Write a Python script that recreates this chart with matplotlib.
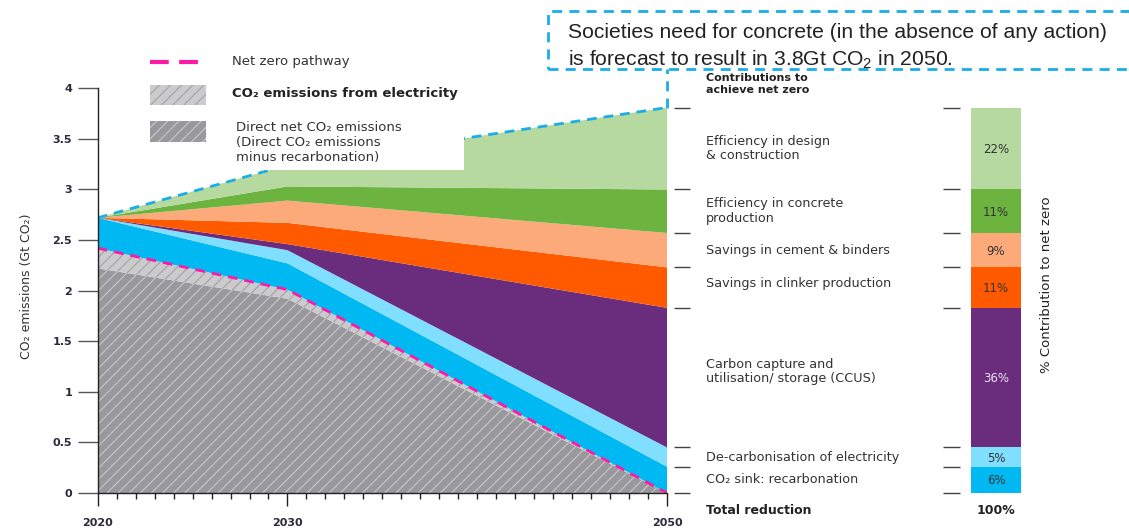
import numpy as np
import matplotlib.pyplot as plt
from matplotlib.patches import Rectangle
from matplotlib.lines import Line2D

plt.rcParams['font.family'] = ['DejaVu Sans']
plt.rcParams['hatch.linewidth'] = 0.8
plt.rcParams['mathtext.fontset'] = 'custom'
plt.rcParams['mathtext.rm'] = 'Liberation Sans'

# data (Gt CO2), layers from bottom to top
years = [2020, 2030, 2050]
direct_net = [2.22, 1.92, 0.00]
electricity = [0.20, 0.09, 0.00]
recarbonation = [0.30, 0.26, 0.26]
decarb_electricity = [0.00, 0.13, 0.19]
ccus = [0.00, 0.06, 1.38]
clinker = [0.00, 0.21, 0.40]
cement_binders = [0.00, 0.22, 0.34]
concrete_production = [0.00, 0.14, 0.43]
design_construction = [0.00, 0.21, 0.81]

lever_names = ["CO₂ sink: recarbonation",
               "De-carbonisation of electricity",
               "Carbon capture and\nutilisation/ storage (CCUS)",
               "Savings in clinker production",
               "Savings in cement & binders",
               "Efficiency in concrete\nproduction",
               "Efficiency in design\n& construction"]
lever_pct = ["6%", "5%", "36%", "11%", "9%", "11%", "22%"]
lever_colors = ['#00b9f2', '#80deff', '#6a2d7e', '#ff5a00',
                '#fdaa7b', '#6db33f', '#b6d99f']

layers = np.array([direct_net, electricity, recarbonation, decarb_electricity,
                   ccus, clinker, cement_binders, concrete_production,
                   design_construction])
tops = np.cumsum(layers, axis=0)
bottoms = np.vstack([np.zeros(len(years)), tops[:-1]])
net_zero = tops[1]
baseline = tops[-1]

W, H = 1129, 530
def fx(px):
    return px / W
def fy(py):
    return 1 - py / H

txt = '#333333'
blue_dash = '#1aaee8'
magenta = '#ff1aa6'

fig = plt.figure(figsize=(W / 100, H / 100), dpi=100)
ax = fig.add_axes([fx(97.7), fy(493), fx(667) - fx(97.7), (493 - 88.3) / H])

# hatched grey areas
ax.fill_between(years, bottoms[0], tops[0], facecolor='#99999d',
                edgecolor='#c8c8cc', hatch='///', linewidth=0, zorder=1)
ax.fill_between(years, bottoms[1], tops[1], facecolor='#cbcbce',
                edgecolor='#a3a3a7', hatch='///', linewidth=0, zorder=1)
# coloured reduction levers
for i, c in enumerate(lever_colors):
    ax.fill_between(years, bottoms[i + 2], tops[i + 2], facecolor=c,
                    edgecolor='none', linewidth=0, zorder=1)

ax.plot(years, net_zero, color=magenta, lw=2, ls=(0, (3.5, 2.5)), zorder=3)
ax.plot(years, baseline, color=blue_dash, lw=2, ls=(0, (3.5, 2.5)), zorder=3)

# white legend background hiding part of the baseline
ax.add_patch(Rectangle((2022, 3.19), 17.3, 1.2, facecolor='white',
                       edgecolor='none', zorder=4))

ax.set_xlim(2020, 2050)
ax.set_ylim(0, 4)
for s in ['top', 'right']:
    ax.spines[s].set_visible(False)
for s in ['left', 'bottom']:
    ax.spines[s].set_color('#222222')
    ax.spines[s].set_linewidth(1)
    ax.spines[s].set_zorder(5)

ax.set_yticks([0, 0.5, 1, 1.5, 2, 2.5, 3, 3.5, 4])
ax.set_yticklabels(['0', '0.5', '1', '1.5', '2', '2.5', '3', '3.5', '4'])
ax.tick_params(axis='y', length=14.5, width=1, color='#555555', pad=4,
               labelsize=8, labelcolor='#2a2a3a')
for t in ax.get_yticklabels():
    t.set_fontweight('bold')

ax.set_xticks([2020, 2030, 2050])
ax.set_xticks(np.arange(2020, 2051, 1), minor=True)
ax.tick_params(axis='x', which='major', length=9, width=1, color='#222222',
               pad=9, labelsize=8, labelcolor='#2a2a3a')
ax.tick_params(axis='x', which='minor', length=4.5, width=1, color='#222222')
for t in ax.get_xticklabels():
    t.set_fontweight('bold')

ax.set_ylabel('CO₂ emissions (Gt CO₂)', fontsize=9, color=txt)
ax.yaxis.set_label_coords(-0.113, 0.51)

# legend, drawn by hand
fig.add_artist(Line2D([fx(150), fx(206)], [fy(62), fy(62)], color=magenta,
                      lw=3, ls=(0, (4.5, 2.5))))
fig.text(fx(232), fy(62), 'Net zero pathway', fontsize=9.5, color=txt,
         va='center')
fig.add_artist(Rectangle((fx(150), fy(105)), fx(206) - fx(150), 20 / H,
                         transform=fig.transFigure, facecolor='#cbcbce',
                         edgecolor='#a3a3a7', hatch='///', linewidth=0))
fig.text(fx(232), fy(93), 'CO₂ emissions from electricity', fontsize=9.5,
         color='#222222', fontweight='bold', va='center')
fig.add_artist(Rectangle((fx(150), fy(142)), fx(206) - fx(150), 21 / H,
                         transform=fig.transFigure, facecolor='#99999d',
                         edgecolor='#c8c8cc', hatch='///', linewidth=0))
fig.text(fx(236), fy(121), 'Direct net CO₂ emissions\n(Direct CO₂ emissions\nminus recarbonation)',
         fontsize=9.5, color=txt, va='top', linespacing=1.2)

# right panel: lever labels and contribution bar
ax2 = fig.add_axes([fx(667), fy(493), fx(1129) - fx(667), (493 - 88.3) / H])
ax2.set_xlim(0, 462)
ax2.set_ylim(0, 4)
ax2.axis('off')

red_bottoms = bottoms[2:, -1]
red_tops = tops[2:, -1]
bounds = np.concatenate([[0], red_tops])
ax2.bar([329] * len(red_tops), red_tops - red_bottoms, bottom=red_bottoms,
        width=50, color=lever_colors, linewidth=0)
ax2.hlines(bounds, 7, 23, color='#444444', lw=1, clip_on=False)
ax2.hlines(bounds, 276, 293, color='#444444', lw=1, clip_on=False)

label_shift = [0, 0, 0.06, 0.04, 0, 0, 0]
for i, name in enumerate(lever_names):
    mid = (red_bottoms[i] + red_tops[i]) / 2
    ax2.text(39, mid + label_shift[i], name, fontsize=9.2, color=txt,
             va='center', ha='left', linespacing=1.15)
    ax2.text(329, mid - 0.01, lever_pct[i], fontsize=8.5,
             color='#e9e2f0' if lever_pct[i] == '36%' else txt,
             va='center', ha='center')

fig.text(fx(706), fy(84), 'Contributions to\nachieve net zero', fontsize=8,
         fontweight='bold', color='#222222', va='center', linespacing=1.15)
fig.text(fx(706), fy(510), 'Total reduction', fontsize=9, fontweight='bold',
         color='#222222', va='center')
fig.text(fx(996), fy(510), '100%', fontsize=9, fontweight='bold',
         color='#222222', va='center', ha='center')
fig.text(fx(1046), fy(285), '% Contribution to net zero', fontsize=9.5,
         color='#222222', rotation=90, va='center', ha='center')

# callout box
fig.add_artist(Rectangle((fx(548), fy(69)), fx(1150) - fx(548), 58 / H,
                         transform=fig.transFigure, fill=False,
                         edgecolor=blue_dash, lw=2, ls=(0, (3.6, 2.6))))
end = fig.transFigure.inverted().transform(ax.transData.transform((2050, baseline[-1])))
fig.add_artist(Line2D([end[0], end[0]], [end[1], fy(69)], color=blue_dash,
                      lw=2, ls=(0, (3.6, 2.6))))
fig.text(fx(568), fy(33), 'Societies need for concrete (in the absence of any action)',
         fontsize=15.2, family='Liberation Sans', color='#222222', va='center')
fig.text(fx(568), fy(60), 'is forecast to result in 3.8Gt CO$_2$ in 2050.',
         fontsize=15.2, family='Liberation Sans', color='#222222', va='center')

fig.savefig('out.png', dpi=100)
